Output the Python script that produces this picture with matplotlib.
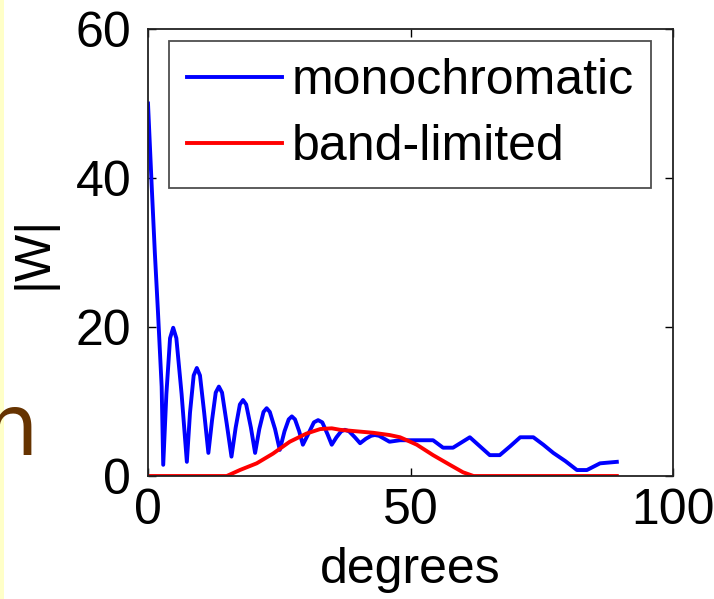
import matplotlib
matplotlib.use("Agg")
import matplotlib.pyplot as plt
from matplotlib.patches import Rectangle

# ---- data ----
mono_deg = [0, 0.7, 1.3, 1.9, 2.6, 2.9,
            3.5, 4.2, 4.8, 5.4, 6.4, 7.4,
            8.0, 8.7, 9.3, 9.9, 10.7, 11.5,
            12.2, 12.9, 13.5, 14.1, 15.0, 15.9,
            16.7, 17.5, 18.1, 18.7, 19.6, 20.4,
            21.2, 22.0, 22.6, 23.2, 24.2, 25.1,
            26.0, 26.8, 27.4, 28.0, 28.8, 29.5,
            30.5, 31.6, 32.4, 33.2, 34.2, 35.0,
            35.9, 36.8, 37.5, 38.3, 39.4, 40.4,
            41.5, 42.5, 43.2, 44.0, 45.0, 46.0,
            48.0, 50.0, 52.0, 54.3, 56.2, 58.1, 61.3, 63.2, 65.1, 67.0,
            69.0, 70.9, 73.4, 75.3, 77.2, 79.5, 81.7, 83.6, 86.1, 89.3]
mono_W = [50, 39, 30, 22, 12, 1.5,
          11, 18.5, 19.9, 18.5, 11, 1.9,
          8.5, 13.5, 14.5, 13.5, 8.5, 3.1,
          7.5, 11.2, 12.0, 11.2, 7.0, 2.6,
          6.5, 9.6, 10.2, 9.6, 6.5, 3.1,
          6.3, 8.6, 9.1, 8.6, 6.3, 3.5,
          6.0, 7.6, 8.0, 7.6, 6.0, 4.2,
          5.6, 7.2, 7.5, 7.2, 5.6, 4.2,
          5.2, 6.0, 6.2, 6.0, 5.2, 4.4,
          5.0, 5.4, 5.5, 5.4, 5.0, 4.6,
          4.8, 4.8, 4.8, 4.8, 3.8, 3.8, 5.2, 4.0, 2.8, 2.8,
          4.0, 5.2, 5.2, 4.2, 3.1, 2.0, 0.8, 0.8, 1.7, 1.9]

band_deg = [0, 15, 17.5, 20.7, 23.8, 27.0, 30.2, 32.8, 35.0, 36.6, 39.7, 42.9,
            46.0, 48.0, 49.3, 51.2, 54.3, 57.5, 60.0, 62.0, 89.3]
band_W = [0, 0, 0.8, 1.7, 3.0, 4.6, 5.7, 6.3, 6.4, 6.2, 6.0, 5.8,
          5.5, 5.2, 4.8, 4.2, 2.8, 1.5, 0.5, 0, 0]

series_labels = ["monochromatic", "band-limited"]
x_ticks = [0, 50, 100]
y_ticks = [0, 20, 40, 60]

W, H = 714, 599
fig = plt.figure(figsize=(W / 100, H / 100), dpi=100)
fig.patch.set_facecolor("white")

# slide remnants on the left edge
fig.patches.append(Rectangle((0, 0), 4 / W, 1, transform=fig.transFigure,
                             facecolor="#ffffc8", edgecolor="none", zorder=0))
fig.text(38 / W, 1 - 455 / H, "n", ha="right", va="baseline", fontsize=62,
         color="#663300", family="DejaVu Sans")

L, R, T, B = 148, 673, 29, 476
ax = fig.add_axes([L / W, 1 - B / H, (R - L) / W, (B - T) / H])

ax.plot(mono_deg, mono_W, color="#0000ff", lw=2.8, label=series_labels[0])
ax.plot(band_deg, band_W, color="#ff0000", lw=2.8, label=series_labels[1])

ax.set_xlim(0, 100)
ax.set_ylim(0, 60)
ax.set_xticks(x_ticks)
ax.set_yticks(y_ticks)

fs = 36
fam = "Liberation Sans"
for lab in ax.get_xticklabels() + ax.get_yticklabels():
    lab.set_fontsize(fs)
    lab.set_family(fam)
ax.tick_params(direction="in", length=6, width=1, top=True, right=True,
               colors="black", labelsize=fs)
ax.tick_params(axis="x", pad=9)
ax.tick_params(axis="y", pad=12)
for s in ax.spines.values():
    s.set_linewidth(1.3)
    s.set_color("#222222")

ax.set_xlabel("degrees", fontsize=fs, family=fam, labelpad=9)
ax.set_ylabel("|W|", fontsize=fs, family=fam, labelpad=14)

leg = ax.legend(loc="upper left", bbox_to_anchor=(21 / (R - L), 1 - 12 / (B - T)),
                borderaxespad=0, fancybox=False, frameon=True,
                prop={"family": fam, "size": fs}, handlelength=1.9,
                handletextpad=0.2, labelspacing=0.4, borderpad=0.35)
leg.get_frame().set_edgecolor("#222222")
leg.get_frame().set_linewidth(1.3)

fig.savefig("out.png", dpi=100)
